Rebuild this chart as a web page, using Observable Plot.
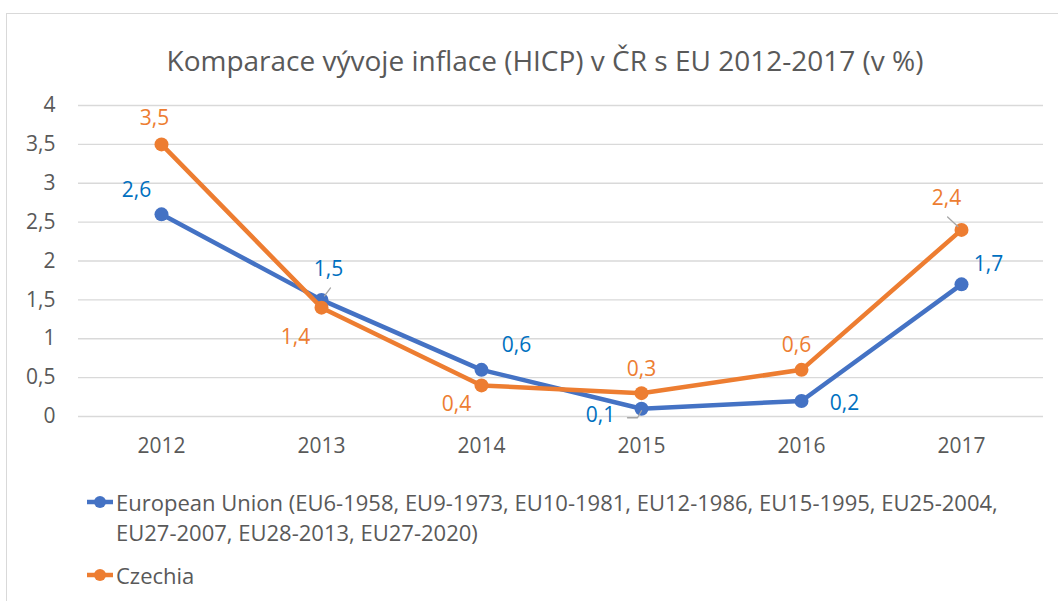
<!DOCTYPE html>
<html><head><meta charset="utf-8">
<script src="https://cdn.jsdelivr.net/npm/d3@7"></script>
<script src="https://cdn.jsdelivr.net/npm/@observablehq/plot@0.6"></script>
<style>
html,body{margin:0;padding:0;background:#fff;overflow:hidden;width:1058px;height:601px;}
#frame{position:absolute;left:6px;top:13px;width:1100px;height:700px;border:1px solid #d9d9d9;box-sizing:border-box}
#title{position:absolute;left:0;width:1090px;top:41px;text-align:center;font:28px "Open Sans",sans-serif;color:#595959;white-space:nowrap}
#chart{position:absolute;left:0;top:90px}
#legend{position:absolute;left:87px;top:487px;font:22px "Open Sans",sans-serif;color:#595959}
.item{display:flex;align-items:flex-start;line-height:30px;margin-bottom:13px}
.item svg{flex:none;margin-top:8px;margin-right:3px}
.item .txt{max-width:900px}
.item .w{white-space:nowrap}
</style>
</head><body>
<div id="frame"></div>
<div id="title"></div>
<div id="chart"></div>
<div id="legend"></div>
<script>
const titleText = "Komparace vývoje inflace (HICP) v ČR s EU 2012-2017 (v %)";
const years = ["2012", "2013", "2014", "2015", "2016", "2017"];
const euValues = [2.6, 1.5, 0.6, 0.1, 0.2, 1.7];
const czValues = [3.5, 1.4, 0.4, 0.3, 0.6, 2.4];
const seriesNames = [
  "European Union (EU6-1958, EU9-1973, EU10-1981, EU12-1986, EU15-1995, EU25-2004, EU27-2007, EU28-2013, EU27-2020)",
  "Czechia"
];
const yTicks = [0, 0.5, 1, 1.5, 2, 2.5, 3, 3.5, 4];

// styling / label placement (pixels, kept apart from the data)
const colors = {eu: "#4472C4", cz: "#ED7D31"};
const labelColors = {eu: "#0070C0", cz: "#ED7D31"};
const euLabelOffsets = [[-25, -24], [7, -31], [35, -25], [-41, 7], [43, 2], [27, -20]];
const czLabelOffsets = [[-7, -26], [-26, 30], [-25, 19], [0, -24], [-5, -25], [-15, -32]];

const euRows = years.map((year, i) => ({year, value: euValues[i]}));
const czRows = years.map((year, i) => ({year, value: czValues[i]}));
const fmt = v => String(v).replace(".", ",");

document.getElementById("title").textContent = titleText;

const labelMarks = [];
[[euRows, euLabelOffsets, labelColors.eu], [czRows, czLabelOffsets, labelColors.cz]].forEach(([rows, offs, col]) => {
  rows.forEach((r, i) => {
    labelMarks.push(Plot.text([r], {x: "year", y: "value", text: d => fmt(d.value), fill: col,
      dx: offs[i][0], dy: offs[i][1], fontSize: 21}));
  });
});

const straightLeader = {draw(ctx, l) { ctx.moveTo(0, -5); ctx.lineTo(0, -l); }};
const elbowLeader = {draw(ctx) { ctx.moveTo(0, 2); ctx.lineTo(-4, 9); ctx.lineTo(-14, 9); }};
const leaderMarks = [
  Plot.vector([euRows[1]], {x: "year", y: "value", length: 15, rotate: 37, anchor: "start", shape: straightLeader, stroke: "#a6a6a6", strokeWidth: 1.3}),
  Plot.vector([czRows[5]], {x: "year", y: "value", length: 19, rotate: -47, anchor: "start", shape: straightLeader, stroke: "#a6a6a6", strokeWidth: 1.3}),
  Plot.vector([euRows[3]], {x: "year", y: "value", length: 10, rotate: 0, anchor: "start", shape: elbowLeader, stroke: "#a6a6a6", strokeWidth: 1.3})
];

const chart = Plot.plot({
  width: 1058,
  height: 370,
  marginLeft: 78,
  marginRight: 15,
  marginTop: 15,
  marginBottom: 44,
  style: {fontFamily: "'Open Sans', sans-serif", fontSize: "21px", color: "#595959", background: "transparent"},
  x: {type: "point", domain: years, padding: 0.5},
  y: {domain: [0, 4]},
  marks: [
    Plot.ruleY(yTicks, {stroke: "#d9d9d9", strokeWidth: 1.3}),
    Plot.axisY({ticks: yTicks, tickSize: 0, tickPadding: 23, tickFormat: fmt, label: null, fontSize: 21}),
    Plot.axisX({tickSize: 0, tickPadding: 22, label: null, fontSize: 21}),
    Plot.line(euRows, {x: "year", y: "value", stroke: colors.eu, strokeWidth: 4.5}),
    Plot.dot(euRows, {x: "year", y: "value", r: 7, fill: colors.eu}),
    Plot.line(czRows, {x: "year", y: "value", stroke: colors.cz, strokeWidth: 4.5}),
    Plot.dot(czRows, {x: "year", y: "value", r: 7, fill: colors.cz}),
    ...leaderMarks,
    ...labelMarks
  ]
});
document.getElementById("chart").appendChild(chart);

const legend = document.getElementById("legend");
[[seriesNames[0], colors.eu], [seriesNames[1], colors.cz]].forEach(([name, col]) => {
  const item = document.createElement("div");
  item.className = "item";
  item.innerHTML = `<svg width="26" height="14"><line x1="0" x2="26" y1="7" y2="7" stroke="${col}" stroke-width="4.5"/><circle cx="13" cy="7" r="6" fill="${col}"/></svg>`;
  const txt = document.createElement("span");
  txt.className = "txt";
  name.split(" ").forEach((word, i) => {
    if (i > 0) txt.appendChild(document.createTextNode(" "));
    const w = document.createElement("span");
    w.className = "w";
    w.textContent = word;
    txt.appendChild(w);
  });
  item.appendChild(txt);
  legend.appendChild(item);
});
</script>
</body></html>
